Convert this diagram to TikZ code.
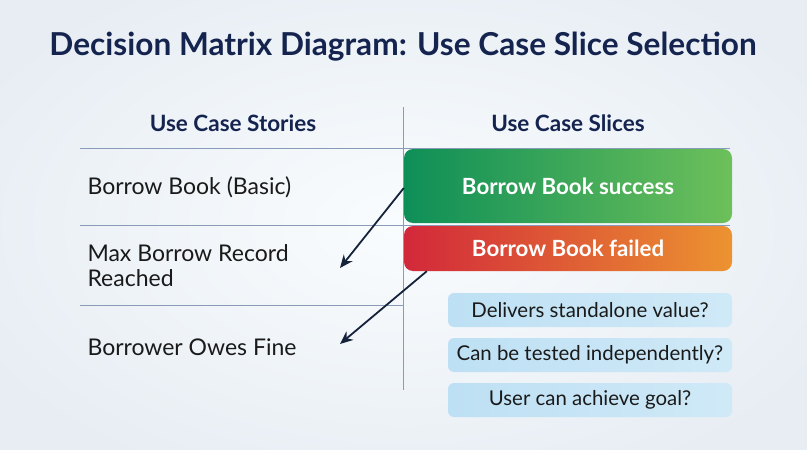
\documentclass[tikz,border=0pt]{standalone}
\usepackage{fontspec}
\setmainfont{Lato}
\usetikzlibrary{arrows.meta,calc}
\definecolor{navy}{HTML}{14244F}
\definecolor{ink}{HTML}{1A1A1A}
\definecolor{gridc}{HTML}{8A9BB8}
\definecolor{gA}{HTML}{0E8F58}
\definecolor{gB}{HTML}{6DC05A}
\definecolor{rA}{HTML}{D2283A}
\definecolor{rB}{HTML}{EC9330}
\definecolor{bA}{HTML}{BEE0F4}
\definecolor{bB}{HTML}{CFE9F7}
\definecolor{arr}{HTML}{15233A}
\tikzset{
  story/.style={anchor=west, align=left, text=ink, font=\fontsize{23}{25}\selectfont},
  header/.style={text=navy, font=\bfseries\fontsize{22.5}{26}\selectfont},
  slicebox/.style={rounded corners=9pt, minimum width=328pt, text=white, font=\bfseries\fontsize{22.3}{26}\selectfont, inner sep=0pt},
  qbox/.style={rounded corners=6pt, minimum width=284pt, minimum height=34pt, left color=bA, right color=bB, text=ink, font=\fontsize{20.4}{24}\selectfont, inner sep=0pt},
  gridline/.style={draw=gridc, line width=0.8pt},
  link/.style={draw=arr, line width=1.8pt, -{Stealth[length=13pt,width=11pt]}}
}
\begin{document}
\begin{tikzpicture}[x=1pt,y=-1pt]
\useasboundingbox (0,0) rectangle (807,450);
\shade[inner color=white!60!bB!30, outer color=bA!40!gridc!25] (-80,-60) rectangle (887,510);
% title
\node[text=navy, font=\bfseries\fontsize{31.6}{34}\selectfont] (title) at (403,47) {Decision Matrix Diagram: Use Case Slice Selection};
% headers
\node[header] (h1) at (233,123) {Use Case Stories};
\node[header] (h2) at (568,123) {Use Case Slices};
% grid
\coordinate (vt) at (403,107);
\coordinate (vb) at (403,390);
\draw[gridline] (vt) -- (vb);
\coordinate (l1a) at (80,148); \coordinate (l1b) at (730,148);
\coordinate (l2a) at (80,225); \coordinate (l2b) at (730,225);
\coordinate (l3a) at (80,305); \coordinate (l3b) at (403,305);
\draw[gridline] (l1a) -- (l1b);
\draw[gridline] (l2a) -- (l2b);
\draw[gridline] (l3a) -- (l3b);
% stories
\node[story] (s1) at (84,187) {Borrow Book (Basic)};
\node[story] (s2) at (84,266) {Max Borrow Record\\Reached};
\node[story] (s3) at (84,347) {Borrower Owes Fine};
% slices
\node[slicebox, minimum height=74pt, left color=gA, right color=gB] (ok) at (568,186) {Borrow Book success};
\node[slicebox, minimum height=45pt, left color=rA, right color=rB] (fail) at (568,248.5) {Borrow Book failed};
% questions
\node[qbox] (q1) at (590,310) {Delivers standalone value?};
\node[qbox] (q2) at (590,355) {Can be tested independently?};
\node[qbox] (q3) at (590,400) {User can achieve goal?};
% arrows
\coordinate (e1) at (340,268);
\coordinate (e2) at (340,344);
\draw[link] ($(ok.west)+(0,2)$) -- (e1);
\draw[link] ($(fail.south west)+(23,0)$) -- (e2);
\end{tikzpicture}
\end{document}
